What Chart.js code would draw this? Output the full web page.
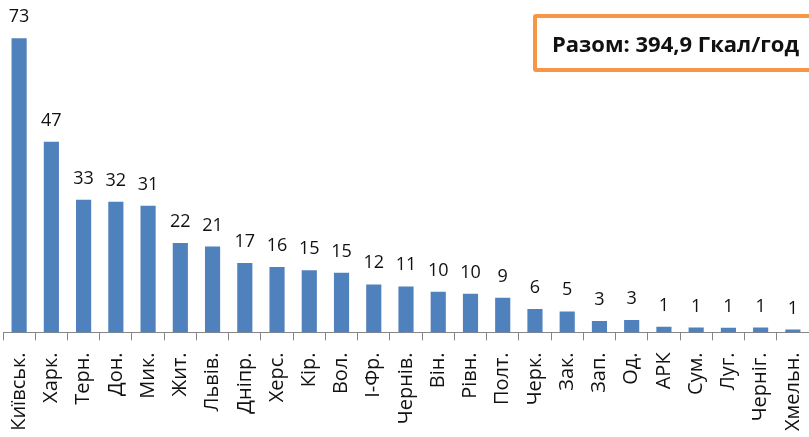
<!DOCTYPE html>
<html lang="uk">
<head>
<meta charset="UTF-8">
<title>Разом: 394,9 Гкал/год</title>
<script src="https://cdn.jsdelivr.net/npm/chart.js@4.4.2/dist/chart.umd.min.js"></script>
<style>
    html, body {
        margin: 0;
        padding: 0;
        background: #ffffff;
        overflow: hidden;
    }
    .wrap {
        position: relative;
        width: 809px;
        height: 437px;
    }
    .total {
        position: absolute;
        left: 533px;
        top: 14px;
        width: 300px;
        height: 50px;
        border: 4px solid #F79646;
        border-radius: 3px;
        font-family: "Open Sans", sans-serif;
        font-weight: bold;
        font-size: 22px;
        line-height: 50px;
        padding-left: 15px;
        color: #111;
        box-sizing: content-box;
    }
</style>
</head>
<body>
<div class="wrap">
    <canvas id="chart" width="809" height="437"></canvas>
    <div class="total">Разом: 394,9 Гкал/год</div>
</div>
<script>
    const regions = ['Київськ.', 'Харк.', 'Терн.', 'Дон.', 'Мик.', 'Жит.', 'Львів.', 'Дніпр.', 'Херс.', 'Кір.',
        'Вол.', 'І-Фр.', 'Чернів.', 'Він.', 'Рівн.', 'Полт.', 'Черк.', 'Зак.', 'Зап.', 'Од.',
        'АРК', 'Сум.', 'Луг.', 'Черніг.', 'Хмельн.'];
    const heatLoad = [73, 47.3, 32.9, 32.4, 31.4, 22.2, 21.3, 17.2, 16.2, 15.4,
        14.8, 11.9, 11.4, 10.1, 9.6, 8.6, 5.8, 5.2, 2.8, 3.1,
        1.4, 1.2, 1.15, 1.2, 0.7];
    const yMax = 80;

    // values above the bars, rounded like the source
    const barValues = {
        id: 'barValues',
        afterDatasetsDraw(chart) {
            const ctx = chart.ctx;
            const meta = chart.getDatasetMeta(0);
            ctx.save();
            ctx.font = '18px "Open Sans", sans-serif';
            ctx.fillStyle = '#111';
            ctx.textAlign = 'center';
            ctx.textBaseline = 'alphabetic';
            meta.data.forEach((bar, i) => {
                ctx.fillText(String(Math.round(heatLoad[i])), bar.x, bar.y - 16);
            });
            ctx.restore();
        }
    };

    new Chart(document.getElementById('chart').getContext('2d'), {
        type: 'bar',
        data: {
            labels: regions,
            datasets: [{
                data: heatLoad,
                backgroundColor: '#4F81BD',
                borderWidth: 0,
                barPercentage: 0.47,
                categoryPercentage: 1
            }]
        },
        options: {
            responsive: false,
            animation: false,
            events: [],
            layout: { padding: { top: 10, left: 3, right: 0, bottom: -6 } },
            plugins: {
                legend: { display: false },
                tooltip: { enabled: false }
            },
            scales: {
                y: {
                    display: false,
                    min: 0,
                    max: yMax
                },
                x: {
                    offset: true,
                    afterFit(scale) {
                        // the plot runs to the right edge as in the source
                        scale.paddingLeft = 0;
                        scale.paddingRight = 0;
                    },
                    border: { display: true, color: '#868686', width: 1 },
                    grid: {
                        offset: true,
                        drawOnChartArea: false,
                        drawTicks: true,
                        tickLength: 8,
                        color: '#868686'
                    },
                    ticks: {
                        color: '#111',
                        font: { family: '"Open Sans", sans-serif', size: 20 },
                        minRotation: 90,
                        maxRotation: 90,
                        autoSkip: false,
                        padding: 12
                    }
                }
            }
        },
        plugins: [barValues]
    });
</script>
</body>
</html>
